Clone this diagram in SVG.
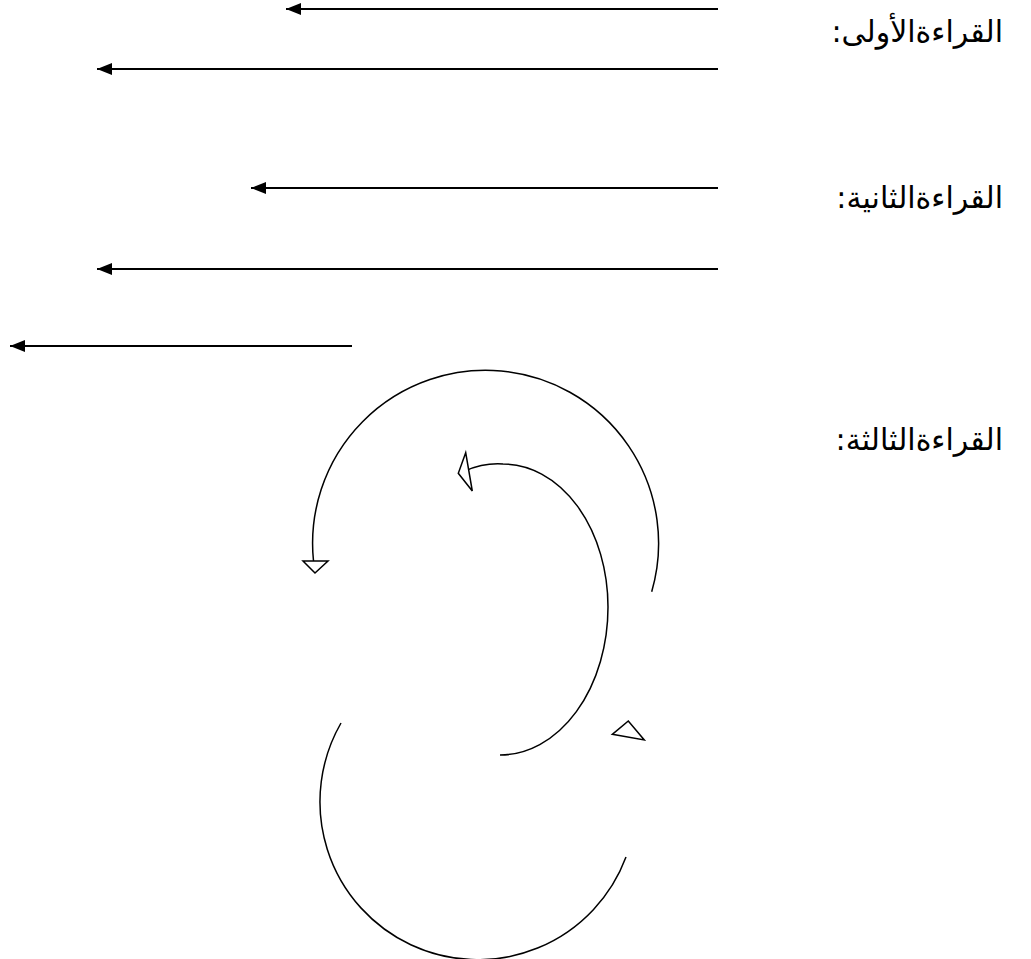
<svg xmlns="http://www.w3.org/2000/svg" width="1031" height="959" viewBox="0 0 1031 959">
<defs>
<style>
.lbl{font-family:"DejaVu Sans","Noto Sans",sans-serif;font-size:30px;fill:#000}
.ln{stroke:#000;stroke-width:2;fill:none}
.arc{stroke:#000;stroke-width:1.5;fill:none}
.head{stroke:#000;stroke-width:1.5;fill:#fff;stroke-linejoin:miter}
</style>
<marker id="ah" viewBox="0 0 15 12" refX="15" refY="6" markerWidth="15" markerHeight="12" markerUnits="userSpaceOnUse" orient="auto">
<path d="M0,0 L15,6 L0,12 Z" fill="#000"/>
</marker>
</defs>
<rect width="1031" height="959" fill="#fff"/>
<g id="labels">
<text id="label1" class="lbl" x="1003" y="42" direction="rtl" text-anchor="start">القراءةالأولى:</text>
<text id="label2" class="lbl" x="1003" y="208" direction="rtl" text-anchor="start">القراءةالثانية:</text>
<text id="label3" class="lbl" x="1003" y="450" direction="rtl" text-anchor="start">القراءةالثالثة:</text>
</g>
<g id="connectors">
<line class="ln" x1="718" y1="9" x2="286" y2="9" marker-end="url(#ah)"/>
<line class="ln" x1="718" y1="69" x2="97" y2="69" marker-end="url(#ah)"/>
<line class="ln" x1="718" y1="188" x2="251" y2="188" marker-end="url(#ah)"/>
<line class="ln" x1="718" y1="269" x2="97" y2="269" marker-end="url(#ah)"/>
<line class="ln" x1="352" y1="346" x2="10" y2="346" marker-end="url(#ah)"/>
<path class="arc" d="M651.7,591.7 A173,173 0 1 0 313.5,561"/>
<polygon class="head" points="303,561 328,561 315,573"/>
<path class="arc" d="M500,755 A108,148 0 0 0 608,607 A105,143 0 0 0 503,464 A105,143 0 0 0 465,471"/>
<polygon class="head" points="465.7,452.7 458.3,473.3 472.3,491"/>
<path class="arc" d="M341,723 A158,158 0 1 0 626,857"/>
<polygon class="head" points="612.3,734.3 628.3,721 644.3,740"/>
</g>
</svg>
